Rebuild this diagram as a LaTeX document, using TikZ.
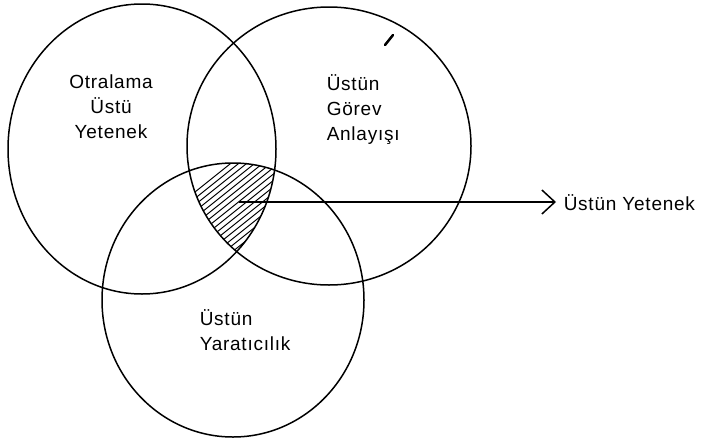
\documentclass[tikz,border=0pt]{standalone}
\usepackage{fontspec}
\setmainfont[LetterSpace=4]{Liberation Sans}
\usetikzlibrary{arrows.meta}

\begin{document}
\begin{tikzpicture}[x=1pt,y=-1pt,line width=1.5pt,
    venntext/.style={font=\fontsize{19}{25}\selectfont,inner sep=0pt}]
    \useasboundingbox (0,0) rectangle (706,442);

    % Hatched intersection of the three sets
    \begin{scope}
      \clip (142,149) ellipse [x radius=134, y radius=145];
      \clip (329,146) ellipse [x radius=142, y radius=139];
      \clip (233,300) ellipse [x radius=131, y radius=137];
      \foreach \x in {60,68,...,400}
        \draw[line width=1pt] (\x,300) -- ++(200,-160);
    \end{scope}

    % The three sets
    \draw (142,149) ellipse [x radius=134, y radius=145];
    \draw (329,146) ellipse [x radius=142, y radius=139];
    \draw (233,300) ellipse [x radius=131, y radius=137];

    % Set labels
    \node[venntext,align=center,anchor=north] (ability) at (111,74)
      {Otralama\\Üstü\\Yetenek};
    \node[venntext,align=left,anchor=north west] (task) at (326,74)
      {Üstün\\Görev\\Anlayışı};
    \node[venntext,align=left,anchor=north west] (creativity) at (199,309)
      {Üstün\\Yaratıcılık};

    % Pointer to the intersection
    \coordinate (core) at (239,202);
    \node[venntext,anchor=west,inner sep=7pt] (gifted) at (556,203) {Üstün Yetenek};
    \draw[-{Straight Barb[length=13pt,width=24pt]}] (core) -- (core -| gifted.west);

    % Pen mark
    \draw[line width=2.5pt,line cap=round] (385,45) -- (393,35);
\end{tikzpicture}
\end{document}
